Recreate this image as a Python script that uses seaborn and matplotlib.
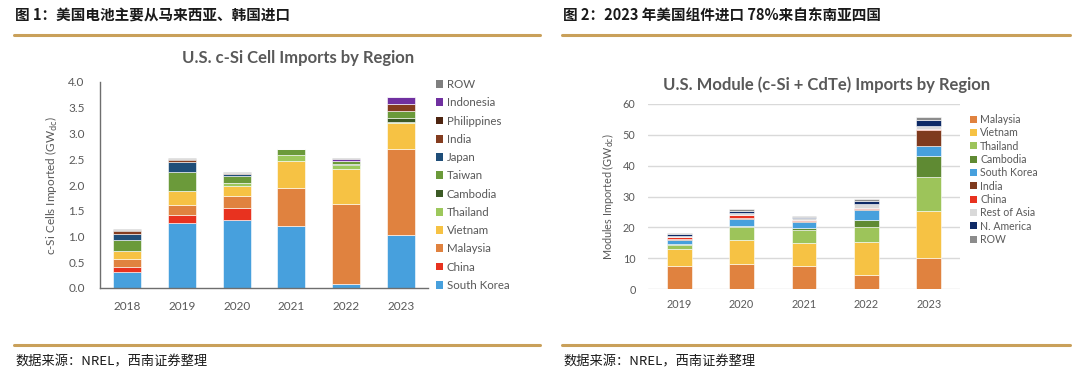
import numpy as np
import pandas as pd
import matplotlib
matplotlib.use("Agg")
import matplotlib.pyplot as plt
import seaborn as sns
from matplotlib.patches import Patch
from matplotlib.lines import Line2D

# Fig 1: U.S. c-Si cell imports by region (GWdc)
cell_years = ["2018", "2019", "2020", "2021", "2022", "2023"]
cell_south_korea = [0.32, 1.26, 1.32, 1.20, 0.08, 1.02]
cell_china = [0.09, 0.16, 0.23, 0.0, 0.0, 0.0]
cell_malaysia = [0.15, 0.20, 0.24, 0.74, 1.56, 1.67]
cell_vietnam = [0.15, 0.26, 0.20, 0.53, 0.68, 0.51]
cell_thailand = [0.0, 0.0, 0.04, 0.11, 0.07, 0.03]
cell_cambodia = [0.0, 0.0, 0.0, 0.0, 0.02, 0.08]
cell_taiwan = [0.23, 0.38, 0.14, 0.12, 0.05, 0.13]
cell_japan = [0.11, 0.18, 0.04, 0.0, 0.0, 0.0]
cell_india = [0.05, 0.04, 0.03, 0.0, 0.0, 0.13]
cell_philippines = [0.03, 0.03, 0.0, 0.0, 0.0, 0.0]
cell_indonesia = [0.0, 0.0, 0.0, 0.0, 0.05, 0.13]
cell_row = [0.01, 0.01, 0.01, 0.0, 0.01, 0.0]

# Fig 2: U.S. module (c-Si + CdTe) imports by region (GWdc)
mod_years = ["2019", "2020", "2021", "2022", "2023"]
mod_malaysia = [7.35, 8.2, 7.35, 4.6, 9.9]
mod_vietnam = [5.55, 7.6, 7.45, 10.8, 15.4]
mod_thailand = [1.5, 4.2, 4.3, 4.8, 11.1]
mod_cambodia = [0.2, 0.4, 0.8, 2.1, 6.8]
mod_south_korea = [1.3, 2.4, 1.7, 3.2, 3.3]
mod_india = [0.4, 0.2, 0.6, 0.5, 5.1]
mod_china = [0.5, 1.1, 0.2, 0.4, 0.2]
mod_rest_asia = [0.5, 0.7, 0.5, 1.1, 1.1]
mod_n_america = [0.5, 0.6, 0.3, 1.0, 1.9]
mod_row = [0.5, 0.5, 0.5, 0.6, 0.9]

# legend order, top to bottom
cell_regions = ["ROW", "Indonesia", "Philippines", "India", "Japan", "Taiwan",
                "Cambodia", "Thailand", "Vietnam", "Malaysia", "China", "South Korea"]
cell_series = [cell_row, cell_indonesia, cell_philippines, cell_india, cell_japan, cell_taiwan,
               cell_cambodia, cell_thailand, cell_vietnam, cell_malaysia, cell_china, cell_south_korea]
cell_colors = ["#7f7f7f", "#7030a0", "#4d2410", "#843c1f", "#1f4e79", "#6b9a3a",
               "#3b5a25", "#9dc85c", "#f6c244", "#e0823f", "#e8321f", "#47a0dd"]

mod_regions = ["Malaysia", "Vietnam", "Thailand", "Cambodia", "South Korea",
               "India", "China", "Rest of Asia", "N. America", "ROW"]
mod_series = [mod_malaysia, mod_vietnam, mod_thailand, mod_cambodia, mod_south_korea,
              mod_india, mod_china, mod_rest_asia, mod_n_america, mod_row]
mod_colors = ["#e0823f", "#f6c244", "#9dc45a", "#5f8a33", "#47a0dd",
              "#7f3a1e", "#e8321f", "#d9d9d9", "#0e2a66", "#8c8c8c"]

GRAY = "#595959"
GOLD = "#c9a05a"

sns.set_theme(style="white")
plt.rcParams["font.family"] = ["Lato", "DejaVu Sans"]
CJK = ["Noto Sans CJK SC", "DejaVu Sans"]


def to_long(years, regions, series):
    rows = []
    for reg, vals in zip(regions, series):
        for yr, v in zip(years, vals):
            if v > 0:
                rows.append({"year": yr, "region": reg, "value": v})
    return pd.DataFrame(rows)


def stacked(ax, years, regions, series, colors, shrink):
    df = to_long(years, regions, series)
    df["year"] = pd.Categorical(df["year"], categories=years)
    # seaborn stacks the first hue level on top
    sns.histplot(data=df, x="year", weights="value", hue="region",
                 hue_order=regions, palette=dict(zip(regions, colors)),
                 multiple="stack", discrete=True, shrink=shrink, alpha=1,
                 edgecolor="white", linewidth=0.4, legend=False, ax=ax)
    ax.set_xlim(-0.5, len(years) - 0.5)
    ax.set_xticks(range(len(years)))
    ax.set_xticklabels(years)
    ax.set_xlabel("")


fig = plt.figure(figsize=(10.8, 3.82), dpi=100)

# ---- left chart ----
ax1 = fig.add_axes([100 / 1080, 1 - 288 / 382, 328 / 1080, 206 / 382])
stacked(ax1, cell_years, cell_regions, cell_series, cell_colors, 0.51)
ax1.set_ylim(0, 4)
ax1.set_yticks(np.arange(0, 4.01, 0.5))
ax1.set_yticklabels([f"{t:.1f}" for t in np.arange(0, 4.01, 0.5)])
ax1.set_ylabel("c-Si Cells Imported (GW$_{\\rm dc}$)", fontsize=8.5, color=GRAY, labelpad=6)
for s in ["top", "right"]:
    ax1.spines[s].set_visible(False)
for s in ["left", "bottom"]:
    ax1.spines[s].set_color("#6e6e6e")
    ax1.spines[s].set_linewidth(1)
ax1.tick_params(axis="y", length=0, pad=11, labelsize=8.5, labelcolor=GRAY)
ax1.tick_params(axis="x", length=0, pad=9, labelsize=8.5, labelcolor=GRAY)
ax1.grid(False)
handles1 = [Patch(facecolor=c, edgecolor="none", label=r) for r, c in zip(cell_regions, cell_colors)]
ax1.legend(handles=handles1, loc="upper left", bbox_to_anchor=(436 / 1080, 1 - 79 / 382),
           bbox_transform=fig.transFigure, frameon=False, fontsize=8.3,
           labelcolor=GRAY, handlelength=0.65, handleheight=0.65, handletextpad=0.3,
           labelspacing=0.63, borderpad=0, borderaxespad=0)
fig.text(298 / 1080, 1 - 58 / 382, "U.S. c-Si Cell Imports by Region", ha="center", va="center",
         fontsize=12, fontweight="bold", color=GRAY)

# ---- right chart ----
ax2 = fig.add_axes([648 / 1080, 1 - 289 / 382, 312 / 1080, 185 / 382])
stacked(ax2, mod_years, mod_regions[::-1], mod_series[::-1], mod_colors[::-1], 0.40)
ax2.set_ylim(0, 60)
ax2.set_yticks(range(0, 61, 10))
ax2.set_ylabel("Modules Imported (GW$_{\\rm dc}$)", fontsize=7.8, color=GRAY, labelpad=5)
for s in ax2.spines.values():
    s.set_visible(False)
ax2.yaxis.grid(True, color="#d9d9d9", linewidth=1)
ax2.set_axisbelow(True)
ax2.tick_params(axis="y", length=0, pad=9, labelsize=7.8, labelcolor=GRAY)
ax2.tick_params(axis="x", length=0, pad=7, labelsize=7.8, labelcolor=GRAY)
handles2 = [Patch(facecolor=c, edgecolor="none", label=r) for r, c in zip(mod_regions, mod_colors)]
ax2.legend(handles=handles2, loc="upper left", bbox_to_anchor=(970 / 1080, 1 - 114 / 382),
           bbox_transform=fig.transFigure, frameon=False, fontsize=7.6,
           labelcolor=GRAY, handlelength=0.65, handleheight=0.65, handletextpad=0.3,
           labelspacing=0.22, borderpad=0, borderaxespad=0)
fig.text(827 / 1080, 1 - 85 / 382, "U.S. Module (c-Si + CdTe) Imports by Region", ha="center",
         va="center", fontsize=12, fontweight="bold", color=GRAY)

# ---- report headers / footers ----
fig.text(15 / 1080, 1 - 16 / 382, "图 1：美国电池主要从马来西亚、韩国进口", ha="left", va="center",
         fontsize=10.5, fontweight="bold", color="#1a1a1a", family=CJK)
fig.text(563 / 1080, 1 - 16 / 382, "图 2：2023 年美国组件进口 78%来自东南亚四国", ha="left", va="center",
         fontsize=10.5, fontweight="bold", color="#1a1a1a", family=CJK)
for x0, x1 in [(14, 540), (562, 1070)]:
    fig.add_artist(Line2D([x0 / 1080, x1 / 1080], [1 - 35 / 382] * 2, color=GOLD, linewidth=2.2))
    fig.add_artist(Line2D([x0 / 1080, x1 / 1080], [1 - 345 / 382] * 2, color=GOLD, linewidth=2.2))
for x0 in [15, 563]:
    fig.text(x0 / 1080, 1 - 362 / 382, "数据来源：NREL，西南证券整理", ha="left", va="center",
             fontsize=9.5, color="#1a1a1a", family=CJK, style="italic")

fig.savefig("out.png", dpi=100)
